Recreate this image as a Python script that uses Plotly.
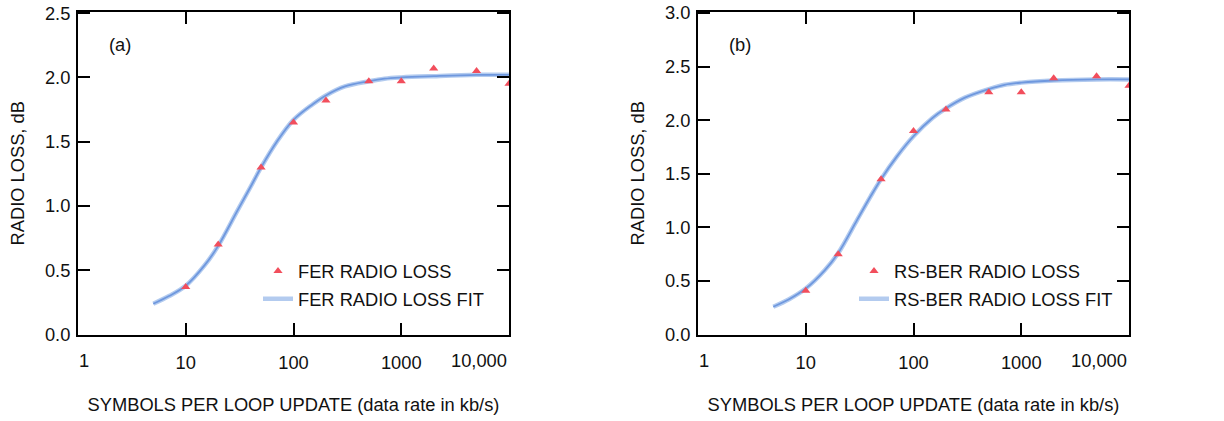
import plotly.graph_objects as go

# ---- data ----
rate = [10, 20, 50, 100, 200, 500, 1000, 2000, 5000, 10000]
fer_loss = [0.37, 0.70, 1.30, 1.65, 1.82, 1.97, 1.97, 2.07, 2.05, 1.95]
rsber_loss = [0.41, 0.75, 1.45, 1.90, 2.10, 2.26, 2.26, 2.39, 2.41, 2.32]

fit_rate = [5, 7, 10, 15, 20, 30, 40, 50, 70, 100, 150, 200, 300, 500, 700, 1000, 2000, 5000, 10000]
fer_fit = [0.24, 0.30, 0.38, 0.54, 0.69, 0.96, 1.15, 1.30, 1.50, 1.67, 1.79, 1.86, 1.93, 1.97, 1.99, 2.00, 2.01, 2.02, 2.02]
rsber_fit = [0.26, 0.33, 0.43, 0.60, 0.76, 1.07, 1.29, 1.45, 1.66, 1.85, 2.02, 2.11, 2.21, 2.29, 2.33, 2.35, 2.37, 2.38, 2.38]

y_ticks_a = [0.0, 0.5, 1.0, 1.5, 2.0, 2.5]
y_ticks_b = [0.0, 0.5, 1.0, 1.5, 2.0, 2.5, 3.0]

FONT = "Liberation Sans, Arial, Helvetica, sans-serif"
FS = 18.3
FIT_LIGHT = "#b3cbef"
FIT_DARK = "#6f98de"
MARK = "#f24e5c"

W, H = 1224, 421
def px_x(p): return p / W
def px_y(p): return 1 - p / H

fig = go.Figure()

panels = [
    dict(xa="x", ya="y", legend="legend", data=fer_loss, fit=fer_fit,
         name="FER RADIO LOSS", fitname="FER RADIO LOSS FIT"),
    dict(xa="x2", ya="y2", legend="legend2", data=rsber_loss, fit=rsber_fit,
         name="RS-BER RADIO LOSS", fitname="RS-BER RADIO LOSS FIT"),
]

for p in panels:
    fig.add_trace(go.Scatter(x=fit_rate, y=p["fit"], mode="lines", name=p["fitname"],
                             xaxis=p["xa"], yaxis=p["ya"], legend=p["legend"],
                             legendgroup=p["fitname"], legendrank=2,
                             line=dict(color=FIT_LIGHT, width=4.5), line_shape="spline"))
    fig.add_trace(go.Scatter(x=fit_rate, y=p["fit"], mode="lines", showlegend=False,
                             xaxis=p["xa"], yaxis=p["ya"], hoverinfo="skip",
                             line=dict(color=FIT_DARK, width=1.8), line_shape="spline"))
    fig.add_trace(go.Scatter(x=rate, y=p["data"], mode="markers", name=p["name"],
                             xaxis=p["xa"], yaxis=p["ya"], legend=p["legend"],
                             legendgroup=p["name"], legendrank=1,
                             marker=dict(symbol="triangle-up", size=8, color=MARK)))

tfont = dict(family=FONT, size=FS, color="#111")
axis_common = dict(showline=True, linecolor="black", linewidth=2, mirror="ticks",
                   ticks="inside", ticklen=12, tickwidth=1.5, tickcolor="black",
                   showgrid=False, zeroline=False, tickfont=tfont,
                   ticklabeloverflow="allow")

xcommon = dict(axis_common, type="log", range=[0, 4], tickvals=[1, 10, 100, 1000, 10000],
               ticktext=["", "10", "100", "1000", ""], ticklabelstandoff=10,
               title=dict(text="SYMBOLS PER LOOP UPDATE (data rate in kb/s)",
                          font=tfont, standoff=27))

legend_common = dict(xanchor="left", yanchor="top", bgcolor="rgba(0,0,0,0)",
                     font=tfont, itemwidth=30, tracegroupgap=1, traceorder="grouped")

fig.update_layout(
    width=W, height=H,
    margin=dict(l=0, r=0, t=0, b=0),
    paper_bgcolor="white", plot_bgcolor="white",
    xaxis=dict(xcommon, domain=[px_x(78), px_x(509)], anchor="y"),
    yaxis=dict(axis_common, range=[0, 2.51], tickvals=y_ticks_a,
               ticktext=[f"{v:.1f}" for v in y_ticks_a], ticklabelstandoff=2,
               domain=[px_y(341), px_y(3)], anchor="x",
               title=dict(text="RADIO LOSS, dB", font=tfont, standoff=16)),
    xaxis2=dict(xcommon, domain=[px_x(698), px_x(1129)], anchor="y2"),
    yaxis2=dict(axis_common, range=[0, 3.01], tickvals=y_ticks_b,
                ticktext=[f"{v:.1f}" for v in y_ticks_b], ticklabelstandoff=2,
                domain=[px_y(341), px_y(3)], anchor="x2",
                title=dict(text="RADIO LOSS, dB", font=tfont, standoff=16)),
    legend=dict(legend_common, x=px_x(258), y=px_y(255)),
    legend2=dict(legend_common, x=px_x(854), y=px_y(255)),
    showlegend=True,
)

for xa, ya, lab in [("x", "y", "(a)"), ("x2", "y2", "(b)")]:
    fig.add_annotation(text=lab, xref=f"{xa} domain", yref=f"{ya} domain",
                       x=0.068, y=0.9, xanchor="left", yanchor="middle",
                       showarrow=False, font=tfont)
    fig.add_annotation(text="1", xref=xa, yref=f"{ya} domain", x=0, y=0,
                       xanchor="center", yanchor="top", xshift=6, yshift=-13,
                       showarrow=False, font=tfont)
    fig.add_annotation(text="10,000", xref=xa, yref=f"{ya} domain", x=4, y=0,
                       xanchor="right", yanchor="top", yshift=-13,
                       showarrow=False, font=tfont)

fig.write_html("out.html", config={"displayModeBar": False},
               post_script="document.body.style.margin='0';")
